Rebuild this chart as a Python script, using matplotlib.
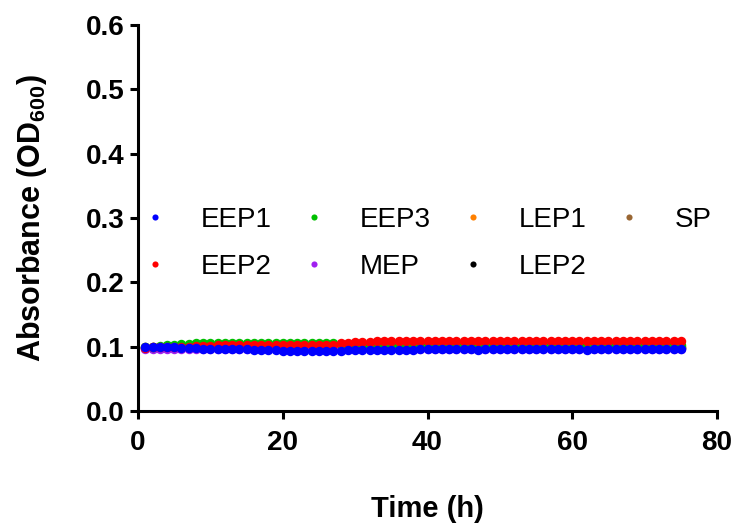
import matplotlib
matplotlib.use("Agg")
import matplotlib.pyplot as plt
import numpy as np

plt.rcParams["font.family"] = ["Liberation Sans", "DejaVu Sans"]
plt.rcParams["mathtext.fontset"] = "custom"
plt.rcParams["mathtext.bf"] = "Liberation Sans:bold"
plt.rcParams["mathtext.rm"] = "Liberation Sans"

# Sampling times (h)
hours = list(range(1, 76))

# OD600 readings per growth-phase sample
eep1 = [0.100, 0.100, 0.100, 0.099, 0.099, 0.098, 0.098, 0.098, 0.097, 0.097,
        0.097, 0.096, 0.096, 0.096, 0.096, 0.095, 0.095, 0.095, 0.095, 0.094,
        0.094, 0.094, 0.094, 0.094, 0.094, 0.094, 0.094, 0.094, 0.095, 0.095,
        0.095, 0.095, 0.095, 0.095, 0.095, 0.095, 0.095, 0.095, 0.096, 0.096,
        0.096, 0.096, 0.096, 0.096, 0.096, 0.096, 0.095, 0.096, 0.096, 0.096,
        0.096, 0.096, 0.096, 0.096, 0.096, 0.096, 0.096, 0.096, 0.096, 0.096,
        0.096, 0.095, 0.096, 0.096, 0.096, 0.096, 0.096, 0.096, 0.096, 0.096,
        0.096, 0.096, 0.096, 0.096, 0.096]
eep2 = [0.098, 0.099, 0.099, 0.099, 0.100, 0.100, 0.100, 0.101, 0.101, 0.101,
        0.102, 0.102, 0.102, 0.102, 0.103, 0.103, 0.103, 0.103, 0.103, 0.103,
        0.103, 0.103, 0.103, 0.103, 0.103, 0.103, 0.103, 0.105, 0.106, 0.107,
        0.108, 0.108, 0.109, 0.109, 0.109, 0.109, 0.109, 0.109, 0.109, 0.109,
        0.109, 0.109, 0.109, 0.109, 0.109, 0.109, 0.109, 0.109, 0.109, 0.109,
        0.109, 0.109, 0.109, 0.109, 0.109, 0.109, 0.109, 0.109, 0.109, 0.109,
        0.109, 0.109, 0.109, 0.109, 0.109, 0.109, 0.109, 0.109, 0.109, 0.109,
        0.109, 0.109, 0.109, 0.109, 0.109]
eep3 = [0.100, 0.100, 0.101, 0.102, 0.103, 0.104, 0.104, 0.105, 0.105, 0.105,
        0.105, 0.105, 0.105, 0.105, 0.105, 0.105, 0.105, 0.105, 0.105, 0.105,
        0.105, 0.105, 0.105, 0.105, 0.105, 0.105, 0.105, 0.104, 0.103, 0.103,
        0.102, 0.102, 0.102, 0.102, 0.102, 0.102, 0.102, 0.102, 0.102, 0.102,
        0.102, 0.102, 0.102, 0.102, 0.102, 0.102, 0.102, 0.102, 0.102, 0.102,
        0.102, 0.102, 0.102, 0.102, 0.102, 0.102, 0.102, 0.102, 0.102, 0.102,
        0.102, 0.102, 0.102, 0.102, 0.102, 0.102, 0.102, 0.102, 0.102, 0.102,
        0.102, 0.102, 0.102, 0.102, 0.102]
mep = [0.097, 0.097, 0.097, 0.097, 0.097, 0.097, 0.097, 0.097, 0.097, 0.097,
       0.097, 0.097, 0.097, 0.097, 0.097, 0.097, 0.097, 0.097, 0.097, 0.097,
       0.097, 0.097, 0.097, 0.097, 0.097, 0.097, 0.097, 0.097, 0.097, 0.097,
       0.097, 0.097, 0.097, 0.097, 0.097, 0.097, 0.097, 0.097, 0.097, 0.097,
       0.097, 0.097, 0.097, 0.097, 0.097, 0.097, 0.097, 0.097, 0.097, 0.097,
       0.097, 0.097, 0.097, 0.097, 0.097, 0.097, 0.097, 0.097, 0.097, 0.097,
       0.097, 0.097, 0.097, 0.097, 0.097, 0.097, 0.097, 0.097, 0.097, 0.097,
       0.097, 0.097, 0.097, 0.097, 0.097]
lep1 = [0.099, 0.099, 0.099, 0.099, 0.099, 0.099, 0.099, 0.099, 0.099, 0.099,
        0.099, 0.099, 0.099, 0.099, 0.099, 0.099, 0.099, 0.099, 0.099, 0.099,
        0.099, 0.099, 0.099, 0.099, 0.099, 0.099, 0.099, 0.099, 0.099, 0.099,
        0.099, 0.099, 0.099, 0.099, 0.099, 0.099, 0.099, 0.099, 0.099, 0.099,
        0.099, 0.099, 0.099, 0.099, 0.099, 0.099, 0.099, 0.099, 0.099, 0.099,
        0.099, 0.099, 0.099, 0.099, 0.099, 0.099, 0.099, 0.099, 0.099, 0.099,
        0.099, 0.099, 0.099, 0.099, 0.099, 0.099, 0.099, 0.099, 0.099, 0.099,
        0.099, 0.099, 0.099, 0.099, 0.099]
lep2 = [0.098, 0.098, 0.098, 0.098, 0.098, 0.098, 0.098, 0.098, 0.098, 0.098,
        0.098, 0.098, 0.098, 0.098, 0.098, 0.098, 0.098, 0.098, 0.098, 0.098,
        0.098, 0.098, 0.098, 0.098, 0.098, 0.098, 0.098, 0.098, 0.098, 0.098,
        0.098, 0.098, 0.098, 0.098, 0.098, 0.098, 0.098, 0.098, 0.098, 0.098,
        0.098, 0.098, 0.098, 0.098, 0.098, 0.098, 0.098, 0.098, 0.098, 0.098,
        0.098, 0.098, 0.098, 0.098, 0.098, 0.098, 0.098, 0.098, 0.098, 0.098,
        0.098, 0.098, 0.098, 0.098, 0.098, 0.098, 0.098, 0.098, 0.098, 0.098,
        0.098, 0.098, 0.098, 0.098, 0.098]
sp = [0.099, 0.099, 0.099, 0.099, 0.099, 0.099, 0.099, 0.099, 0.099, 0.099,
      0.099, 0.099, 0.099, 0.099, 0.099, 0.099, 0.099, 0.099, 0.099, 0.099,
      0.099, 0.099, 0.099, 0.099, 0.099, 0.099, 0.099, 0.099, 0.099, 0.099,
      0.099, 0.099, 0.099, 0.099, 0.099, 0.099, 0.099, 0.099, 0.099, 0.099,
      0.099, 0.099, 0.099, 0.099, 0.099, 0.099, 0.099, 0.099, 0.099, 0.099,
      0.099, 0.099, 0.099, 0.099, 0.099, 0.099, 0.099, 0.099, 0.099, 0.099,
      0.099, 0.099, 0.099, 0.099, 0.099, 0.099, 0.099, 0.099, 0.099, 0.099,
      0.099, 0.099, 0.099, 0.099, 0.099]

labels = ["EEP1", "EEP2", "EEP3", "MEP", "LEP1", "LEP2", "SP"]
series = [eep1, eep2, eep3, mep, lep1, lep2, sp]
colors = ["#0000ff", "#ff0000", "#00c000", "#a020f0", "#ff8000", "#000000", "#996633"]

fig = plt.figure(figsize=(7.35, 5.27), dpi=100)
ax = fig.add_axes([0.1878, 0.2201, 0.7877, 0.7325])

# first data set drawn on top (GraphPad style)
n = len(series)
for i, (lab, vals, col) in enumerate(zip(labels, series, colors)):
    ax.plot(hours, vals, "o", color=col, markersize=6.8, markeredgewidth=0,
            label=lab, zorder=10 + n - i)

ax.set_xlim(0, 80)
ax.set_ylim(0, 0.6)
ax.set_xticks([0, 20, 40, 60, 80])
ax.set_yticks(np.arange(0, 0.61, 0.1))
ax.set_yticklabels([f"{v:.1f}" for v in np.arange(0, 0.61, 0.1)])

for s in ["top", "right"]:
    ax.spines[s].set_visible(False)
for s in ["left", "bottom"]:
    ax.spines[s].set_linewidth(2.2)
ax.tick_params(width=2.2, length=6, labelsize=20, pad=4)
ax.tick_params(axis="x", pad=8)
for t in ax.get_xticklabels() + ax.get_yticklabels():
    t.set_fontweight("bold")

ax.set_xlabel("Time (h)", fontsize=21, fontweight="bold", labelpad=28)
ax.set_ylabel("Absorbance (OD$_{\\mathbf{600}}$)", fontsize=22, fontweight="bold", labelpad=26)

leg = ax.legend(loc="center left", bbox_to_anchor=(0.005, 0.435), ncol=4, frameon=False,
                fontsize=20, markerscale=0.65, handlelength=1.0, handletextpad=1.15,
                columnspacing=1.02, labelspacing=0.75, borderaxespad=0.0, borderpad=0.0)

plt.savefig("out.png", dpi=100)
